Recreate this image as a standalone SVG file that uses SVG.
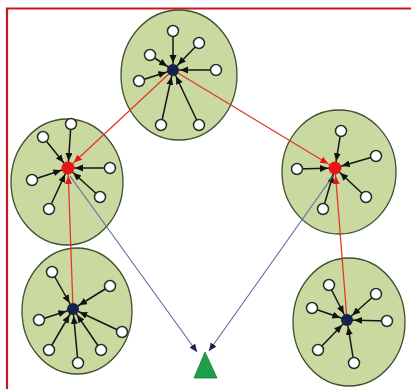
<svg xmlns="http://www.w3.org/2000/svg" width="411" height="389" viewBox="0 0 411 389">
<style>
.cl{fill:#c9d9a0;stroke:#3f4f30;stroke-width:1.3}
.sat{fill:#fff;stroke:#2a2a2a;stroke-width:1.5}
.hubB{fill:#15234a}
.hubR{fill:#e8141a}
.bl{stroke:#151515;stroke-width:1.5;fill:none;marker-end:url(#ab)}
.rd{stroke:#e23a22;stroke-width:1.3;fill:none;marker-end:url(#ar)}
.bu{stroke:#5a6aa0;stroke-width:1.1;fill:none;marker-end:url(#au)}
</style>
<defs>
<marker id="ab" markerUnits="userSpaceOnUse" markerWidth="20" markerHeight="10" refX="15" refY="3.5" orient="auto"><path d="M0,0 L8,3.5 L0,7z" fill="#111"/></marker>
<marker id="ar" markerUnits="userSpaceOnUse" markerWidth="20" markerHeight="10" refX="16" refY="3.5" orient="auto"><path d="M0,0 L8,3.5 L0,7z" fill="#e8141a"/></marker>
<marker id="au" markerUnits="userSpaceOnUse" markerWidth="12" markerHeight="10" refX="8" refY="3.5" orient="auto"><path d="M0,0 L8,3.5 L0,7z" fill="#1a2440"/></marker>
</defs>
<rect width="411" height="389" fill="#fff"/>
<g id="frame" stroke="#c8161d" stroke-width="2.2" fill="none">
<path d="M7,389 V8.5 H411"/>
</g>
<g id="cluster-top"><ellipse class="cl" cx="179" cy="75" rx="58" ry="65"/></g>
<g id="cluster-left"><ellipse class="cl" cx="67" cy="182" rx="56" ry="63"/></g>
<g id="cluster-right"><ellipse class="cl" cx="339" cy="172" rx="57" ry="62"/></g>
<g id="cluster-bottom-left"><ellipse class="cl" cx="77" cy="311" rx="55" ry="63"/></g>
<g id="cluster-bottom-right"><ellipse class="cl" cx="349" cy="322" rx="56" ry="64"/></g>
<g id="connectors">
<!-- top -->
<line class="bl" x1="173" y1="31" x2="173" y2="70"/>
<line class="bl" x1="199" y1="43" x2="173" y2="70"/>
<line class="bl" x1="150" y1="55" x2="173" y2="70"/>
<line class="bl" x1="216" y1="70" x2="173" y2="70"/>
<line class="bl" x1="139" y1="81" x2="173" y2="70"/>
<line class="bl" x1="161" y1="125" x2="173" y2="70"/>
<line class="bl" x1="199" y1="125" x2="173" y2="70"/>
<!-- left -->
<line class="bl" x1="71" y1="124" x2="68" y2="168"/>
<line class="bl" x1="43" y1="137" x2="68" y2="168"/>
<line class="bl" x1="110" y1="168" x2="68" y2="168"/>
<line class="bl" x1="32" y1="180" x2="68" y2="168"/>
<line class="bl" x1="100" y1="197" x2="68" y2="168"/>
<line class="bl" x1="49" y1="209" x2="68" y2="168"/>
<!-- right -->
<line class="bl" x1="341" y1="131" x2="335" y2="168"/>
<line class="bl" x1="376" y1="156" x2="335" y2="168"/>
<line class="bl" x1="297" y1="169" x2="335" y2="168"/>
<line class="bl" x1="366" y1="197" x2="335" y2="168"/>
<line class="bl" x1="323" y1="209" x2="335" y2="168"/>
<!-- bottom-left -->
<line class="bl" x1="52" y1="272" x2="73" y2="309"/>
<line class="bl" x1="110" y1="286" x2="73" y2="309"/>
<line class="bl" x1="39" y1="320" x2="73" y2="309"/>
<line class="bl" x1="122" y1="332" x2="73" y2="309"/>
<line class="bl" x1="49" y1="350" x2="73" y2="309"/>
<line class="bl" x1="101" y1="350" x2="73" y2="309"/>
<line class="bl" x1="78" y1="363" x2="73" y2="309"/>
<!-- bottom-right -->
<line class="bl" x1="329" y1="285" x2="347" y2="320"/>
<line class="bl" x1="376" y1="294" x2="347" y2="320"/>
<line class="bl" x1="312" y1="308" x2="347" y2="320"/>
<line class="bl" x1="387" y1="321" x2="347" y2="320"/>
<line class="bl" x1="318" y1="350" x2="347" y2="320"/>
<line class="bl" x1="354" y1="363" x2="347" y2="320"/>
<!-- heads -->
<line class="rd" x1="173" y1="70" x2="68" y2="168"/>
<line class="rd" x1="173" y1="70" x2="335" y2="168"/>
<line class="rd" x1="73" y1="309" x2="68" y2="168"/>
<line class="rd" x1="347" y1="320" x2="335" y2="168"/>
<!-- to sink -->
<line class="bu" x1="70" y1="176" x2="197" y2="352"/>
<line class="bu" x1="333" y1="176" x2="209" y2="351"/>
</g>
<g id="nodes-top">
<circle class="sat" cx="173" cy="31" r="5.5"/><circle class="sat" cx="199" cy="43" r="5.5"/><circle class="sat" cx="150" cy="55" r="5.5"/><circle class="sat" cx="216" cy="70" r="5.5"/><circle class="sat" cx="139" cy="81" r="5.5"/><circle class="sat" cx="161" cy="125" r="5.5"/><circle class="sat" cx="199" cy="125" r="5.5"/>
<circle id="hub-top" class="hubB" cx="173" cy="70" r="6"/>
</g>
<g id="nodes-left">
<circle class="sat" cx="71" cy="124" r="5.5"/><circle class="sat" cx="43" cy="137" r="5.5"/><circle class="sat" cx="110" cy="168" r="5.5"/><circle class="sat" cx="32" cy="180" r="5.5"/><circle class="sat" cx="100" cy="197" r="5.5"/><circle class="sat" cx="49" cy="209" r="5.5"/>
<circle id="hub-left" class="hubR" cx="68" cy="168" r="6.5"/>
</g>
<g id="nodes-right">
<circle class="sat" cx="341" cy="131" r="5.5"/><circle class="sat" cx="376" cy="156" r="5.5"/><circle class="sat" cx="297" cy="169" r="5.5"/><circle class="sat" cx="366" cy="197" r="5.5"/><circle class="sat" cx="323" cy="209" r="5.5"/>
<circle id="hub-right" class="hubR" cx="335" cy="168" r="6.5"/>
</g>
<g id="nodes-bottom-left">
<circle class="sat" cx="52" cy="272" r="5.5"/><circle class="sat" cx="110" cy="286" r="5.5"/><circle class="sat" cx="39" cy="320" r="5.5"/><circle class="sat" cx="122" cy="332" r="5.5"/><circle class="sat" cx="49" cy="350" r="5.5"/><circle class="sat" cx="101" cy="350" r="5.5"/><circle class="sat" cx="78" cy="363" r="5.5"/>
<circle id="hub-bottom-left" class="hubB" cx="73" cy="309" r="6"/>
</g>
<g id="nodes-bottom-right">
<circle class="sat" cx="329" cy="285" r="5.5"/><circle class="sat" cx="376" cy="294" r="5.5"/><circle class="sat" cx="312" cy="308" r="5.5"/><circle class="sat" cx="387" cy="321" r="5.5"/><circle class="sat" cx="318" cy="350" r="5.5"/><circle class="sat" cx="354" cy="363" r="5.5"/>
<circle id="hub-bottom-right" class="hubB" cx="347" cy="320" r="6"/>
</g>
<g id="sink">
<polygon points="205,352 194,378 217,378" fill="#1ea04a" stroke="#137a36" stroke-width="0.8"/>
</g>
</svg>
